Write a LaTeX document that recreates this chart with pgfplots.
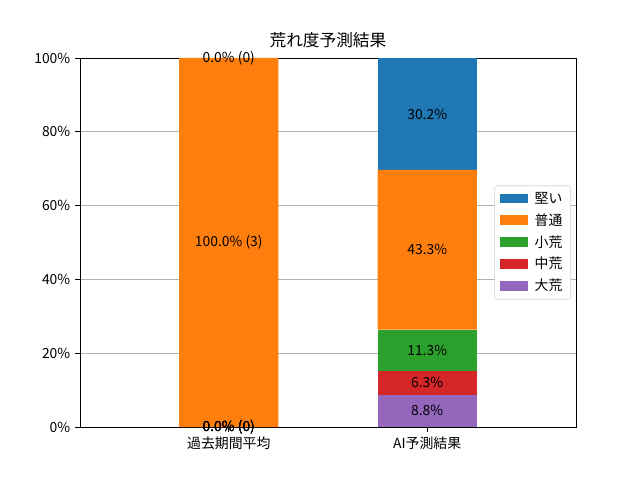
\documentclass[border=0pt]{standalone}
\usepackage{fontspec}
\setmainfont{Noto Sans CJK JP}
\usepackage{pgfplots}
\usepackage{pgfplotstable}
\pgfplotsset{compat=1.18}
\definecolor{c0}{HTML}{1F77B4}
\definecolor{c1}{HTML}{FF7F0E}
\definecolor{c2}{HTML}{2CA02C}
\definecolor{c3}{HTML}{D62728}
\definecolor{c4}{HTML}{9467BD}
\definecolor{gridc}{HTML}{B0B0B0}
\pgfplotstableread[col sep=comma]{
x,y,label
0,0,0.0\% (0)
0,0,0.0\% (0)
0,0,0.0\% (0)
0,50,100.0\% (3)
0,100,0.0\% (0)
1,4.4,8.8\%
1,11.95,6.3\%
1,20.75,11.3\%
1,48.05,43.3\%
1,84.8,30.2\%
}\labels
\begin{document}
\begin{tikzpicture}
\pgfplotsset{
  base/.style={
    scale only axis, width=357.12pt, height=265.68pt,
    at={(0,0)}, anchor=south west,
    xmin=-0.75, xmax=1.75, ymin=0, ymax=100,
    /pgf/number format/assume math mode=true,
    ticklabel style={font=\fontsize{10}{12}\selectfont},
  }
}
\begin{axis}[base,
  ybar stacked, bar width=0.5,
  axis line style={line width=0.6pt},
  xtick={0,1}, xticklabels={過去期間平均,AI予測結果},
  ytick={0,20,40,60,80,100},
  yticklabel={\pgfmathprintnumber{\tick}\%},
  tick align=outside, tick pos=left,
  major tick length=3.5pt,
  tick style={line width=0.6pt, black},
  ymajorgrids, grid style={gridc, line width=0.6pt},
  title={荒れ度予測結果},
  title style={font=\fontsize{12}{14}\selectfont, yshift=-2pt},
  reverse legend,
  legend style={at={(0.99,0.5)}, anchor=east, draw=gray!35, rounded corners=2pt,
    font=\fontsize{10}{12}\selectfont, row sep=1.9pt, column sep=3pt,
    inner xsep=4pt, inner ysep=2.5pt},
  legend image code/.code={\fill[#1, sharp corners] (0pt,-3.5pt) rectangle (20pt,3.5pt);},
  legend cell align=left,
]
\addplot[fill=c4, draw=none] coordinates {(0,0) (1,8.8)};
\addlegendentry{大荒}
\addplot[fill=c3, draw=none] coordinates {(0,0) (1,6.3)};
\addlegendentry{中荒}
\addplot[fill=c2, draw=none] coordinates {(0,0) (1,11.3)};
\addlegendentry{小荒}
\addplot[fill=c1, draw=none] coordinates {(0,100) (1,43.3)};
\addlegendentry{普通}
\addplot[fill=c0, draw=none] coordinates {(0,0) (1,30.2)};
\addlegendentry{堅い}
\end{axis}
\begin{axis}[base, hide axis, clip=false]
\addplot[only marks, mark=none, point meta=explicit symbolic,
  nodes near coords, nodes near coords align={center},
  every node near coord/.append style={font=\fontsize{10}{12}\selectfont, black, inner sep=0pt}]
  table[x=x, y=y, meta=label] {\labels};
\end{axis}
\path[use as bounding box] (-57.6pt,-38.16pt) rectangle (403.2pt,307.44pt);
\end{tikzpicture}
\end{document}
